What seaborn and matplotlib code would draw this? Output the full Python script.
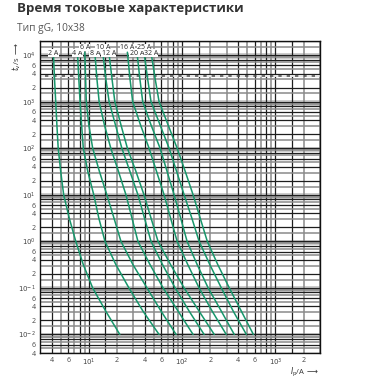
import matplotlib
matplotlib.use('Agg')
import numpy as np
import pandas as pd
import matplotlib.pyplot as plt
import seaborn as sns
from matplotlib.ticker import NullLocator

sns.set_style('white')
plt.rcParams['font.family'] = ['Open Sans', 'DejaVu Sans']

# time points (s) where each curve was read
times = [1.15e4, 3160, 1e3, 316, 100, 31.6, 10, 3.16, 1, 0.316, 0.1, 0.0316, 0.01]

# prearcing current (A) at those times, per fuse rating
i_2a = [4.17, 4.29, 4.42, 4.55, 4.70, 5.00, 5.38, 6.17, 7.25, 8.73, 11.0, 15.2, 21.5]
i_4a = [7.56, 7.81, 8.06, 8.37, 8.73, 9.75, 11.3, 12.8, 14.9, 19.5, 26.9, 38.1, 56.6]
i_6a = [9.06, 9.24, 9.40, 10.0, 11.0, 13.0, 15.6, 18.6, 22.1, 29.7, 42.0, 59.5, 86.2]
i_8a = [11.6, 12.2, 12.9, 14.7, 17.2, 20.8, 25.0, 29.0, 33.6, 45.3, 62.5, 90.6, 131]
i_10a = [14.1, 15.2, 16.5, 19.3, 22.6, 27.6, 33.6, 39.5, 46.4, 61.7, 84.1, 119, 172]
i_12a = [16.4, 17.7, 19.0, 22.1, 25.9, 32.0, 39.0, 46.4, 55.2, 75.2, 105, 152, 221]
i_16a = [25.9, 27.6, 29.5, 35.8, 44.2, 53.2, 64.0, 75.2, 88.4, 115, 152, 210, 297]
i_20a = [32.8, 35.2, 37.8, 46.4, 58.0, 69.0, 82.0, 96.4, 113, 145, 190, 263, 362]
i_25a = [39.0, 42.6, 46.4, 58.0, 72.5, 87.3, 105, 127, 152, 198, 263, 353, 488]
i_32a = [46.4, 51.3, 56.6, 70.7, 88.4, 108, 131, 156, 186, 241, 320, 431, 580]

ratings = ['2 A', '4 A', '6 A', '8 A', '10 A', '12 A', '16 A', '20 A', '25 A', '32 A']
currents = [i_2a, i_4a, i_6a, i_8a, i_10a, i_12a, i_16a, i_20a, i_25a, i_32a]
upper_row = ['6 A', '10 A', '16 A', '25 A']

xtick_vals = [4, 6, 10, 20, 40, 60, 100, 200, 400, 600, 1000, 2000]
xtick_labels = ['4', '6', '$10^1$', '2', '4', '6', '$10^2$', '2', '4', '6', '$10^3$', '2']
ytick_vals = [4e-3, 6e-3, 1e-2, 2e-2, 4e-2, 6e-2, 1e-1, 2e-1, 4e-1, 6e-1, 1, 2, 4, 6,
              1e1, 2e1, 4e1, 6e1, 1e2, 2e2, 4e2, 6e2, 1e3, 2e3, 4e3, 6e3, 1e4]
ytick_labels = ['4', '6', '$10^{-2}$', '2', '4', '6', '$10^{-1}$', '2', '4', '6', '$10^0$',
                '2', '4', '6', '$10^1$', '2', '4', '6', '$10^2$', '2', '4', '6', '$10^3$',
                '2', '4', '6', '$10^4$']

rows = []
for r, cur in zip(ratings, currents):
    for c, t in zip(cur, times):
        rows.append({'rating': r, 'I': c, 't': t})
df = pd.DataFrame(rows)

fig = plt.figure(figsize=(3.69, 3.84), dpi=100)
ax = fig.add_axes([0.1084, 0.0807, 0.7588, 0.8125])
ax.set_xscale('log')
ax.set_yscale('log')
ax.set_xlim(3, 3000)
ax.set_ylim(4e-3, 2e4)

# graph paper grid
black_m = [1, 1.5, 4, 6, 8]
gray_m = [2, 3, 5, 7, 9]
for k in range(0, 4):
    for m in black_m:
        ax.axvline(m * 10**k, color='#1e1e1e', lw=0.9, zorder=1)
    for m in gray_m:
        ax.axvline(m * 10**k, color='#8a8a8a', lw=1.1, zorder=1)

for k in range(-3, 5):
    ax.axhspan(0.82 * 10**k, 1.08 * 10**k, color='#cdcdcd', lw=0, zorder=0)
    for m in [1, 2, 4, 6, 8]:
        ax.axhline(m * 10**k, color='#1e1e1e', lw=0.9, zorder=1)
    for m in [1.5, 3, 5, 7, 9]:
        ax.axhline(m * 10**k, color='#8a8a8a', lw=1.1, zorder=1)

ax.axhline(3600, color='#555555', lw=1.2, zorder=2)
ax.axhline(3600, color='white', lw=1.2, ls=(0, (3, 2)), zorder=2)

sns.lineplot(data=df, x='I', y='t', units='rating', estimator=None, sort=False,
             color='#17966b', lw=1.1, ax=ax, zorder=3, legend=False)

for r, cur in zip(ratings, currents):
    yy = 0.991 if r in upper_row else 0.972
    ax.text(cur[0], yy, r, transform=ax.get_xaxis_transform(), ha='center', va='top',
            fontsize=5, color='#222222', zorder=4,
            bbox=dict(facecolor='white', edgecolor='none', pad=0.2))

ax.set_xticks(xtick_vals)
ax.set_xticklabels(xtick_labels)
ax.set_yticks(ytick_vals)
ax.set_yticklabels(ytick_labels)
ax.xaxis.set_minor_locator(NullLocator())
ax.yaxis.set_minor_locator(NullLocator())
ax.tick_params(length=0, labelsize=5, colors='#444444', pad=3)
ax.set_xlabel('')
ax.set_ylabel('')
for s in ax.spines.values():
    s.set_color('#111111')
    s.set_linewidth(1.0)

fig.text(0.046, 0.977, 'Время токовые характеристики', fontsize=9.6, fontweight='bold',
         color='#333333', ha='left', va='center')
fig.text(0.046, 0.925, 'Тип gG, 10x38', fontsize=7.3, color='#555555', ha='left', va='center')
fig.text(0.785, 0.03, r'$I_\mathrm{p}$/A $\longrightarrow$', fontsize=5.5, color='#333333',
         ha='left', va='center')
fig.text(0.045, 0.852, r'$t_\mathrm{v}$/s $\longrightarrow$', fontsize=5.5, color='#333333',
         ha='center', va='center', rotation=90)

fig.savefig('out.png', dpi=100)
